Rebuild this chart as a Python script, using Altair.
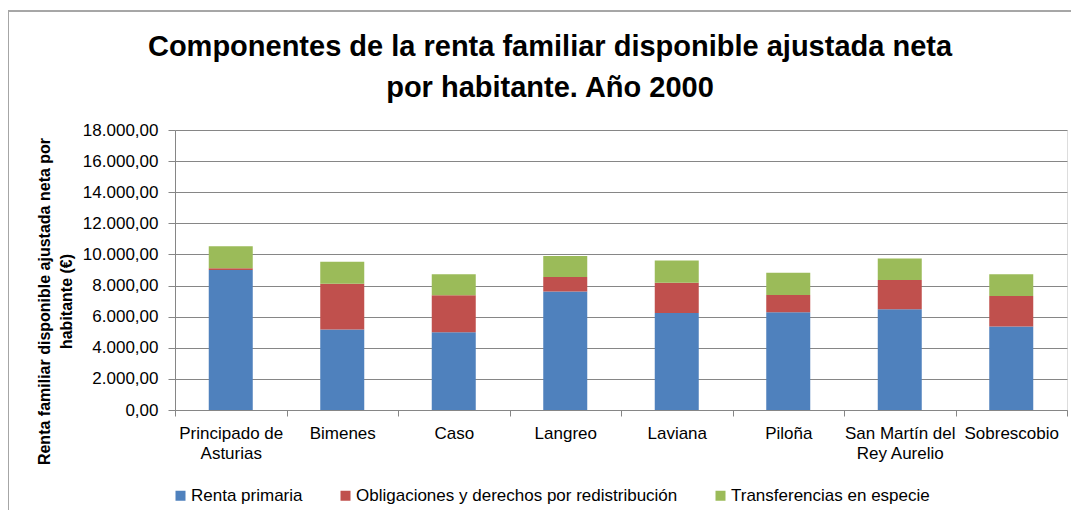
import altair as alt
import pandas as pd

categories = ["Principado de Asturias", "Bimenes", "Caso", "Langreo", "Laviana",
              "Piloña", "San Martín del Rey Aurelio", "Sobrescobio"]
series = ["Renta primaria", "Obligaciones y derechos por redistribución",
          "Transferencias en especie"]
renta_primaria = [9000, 5170, 5000, 7610, 6240, 6280, 6475, 5360]
obligaciones = [110, 2950, 2370, 940, 1940, 1110, 1880, 1970]
transferencias = [1410, 1410, 1350, 1350, 1430, 1430, 1390, 1390]
colors = ["#4F81BD", "#C0504D", "#9BBB59"]
y_ticks = [0, 2000, 4000, 6000, 8000, 10000, 12000, 14000, 16000, 18000]

rows = []
for s_idx, (name, vals) in enumerate(zip(series, [renta_primaria, obligaciones, transferencias])):
    for cat, v in zip(categories, vals):
        rows.append({"municipio": cat, "componente": name, "valor": v, "orden": s_idx})
df = pd.DataFrame(rows)

FONT = "Liberation Sans"
label_expr_x = ("datum.label == 'Principado de Asturias' ? ['Principado de', 'Asturias'] : "
                "datum.label == 'San Martín del Rey Aurelio' ? ['San Martín del', 'Rey Aurelio'] : datum.label")
label_expr_y = ("replace(replace(replace(format(datum.value, ',.2f'), ',', '#'), '.', ','), '#', '.')")

bars = alt.Chart(df).mark_bar(width=44).encode(
    x=alt.X("municipio:N", sort=categories,
            scale=alt.Scale(paddingInner=0, paddingOuter=0),
            axis=alt.Axis(title=None, labelAngle=0, labelExpr=label_expr_x,
                          labelFont=FONT, labelFontSize=17, labelColor="#000000",
                          labelLineHeight=20, labelPadding=9, tickSize=6,
                          tickBand="extent", domainColor="#868686", tickColor="#868686",
                          grid=False)),
    y=alt.Y("valor:Q", stack="zero",
            scale=alt.Scale(domain=[0, 18000], nice=False),
            axis=alt.Axis(title=["Renta familiar disponible ajustada neta por", "habitante (€)"],
                          values=y_ticks, labelExpr=label_expr_y,
                          labelFont=FONT, labelFontSize=17, labelColor="#000000",
                          labelPadding=10, tickSize=7,
                          domainColor="#868686", tickColor="#868686",
                          gridColor="#868686", gridWidth=1,
                          titleFont=FONT, titleFontSize=16, titleFontWeight="bold",
                          titleColor="#000000", titleLineHeight=22,
                          titleAngle=270, titleAlign="center", titleBaseline="middle",
                          titleX=-131, titleY=171)),
    color=alt.Color("componente:N", sort=series,
                    scale=alt.Scale(domain=series, range=colors),
                    legend=alt.Legend(title=None, orient="none", direction="horizontal",
                                      legendX=-3, legendY=357, symbolType="square",
                                      symbolSize=100, symbolStrokeWidth=0,
                                      labelFont=FONT, labelFontSize=17, labelColor="#000000",
                                      labelLimit=500, labelOffset=2, columnPadding=34,
                                      padding=0)),
    order=alt.Order("orden:Q", sort="ascending"),
)

frame_top = alt.Chart(df).mark_rule(color="#a6a6a6", strokeWidth=1, clip=False).encode(
    x=alt.value(-166.5), x2=alt.value(910), y=alt.value(-119)
)
frame_left = alt.Chart(df).mark_rule(color="#a6a6a6", strokeWidth=1, clip=False).encode(
    x=alt.value(-166.5), y=alt.value(-119), y2=alt.value(400)
)

chart = alt.layer(bars, frame_top, frame_left).properties(
    width=892, height=280,
    title=alt.TitleParams(
        text=["Componentes de la renta familiar disponible ajustada neta",
              "por habitante. Año 2000"],
        font=FONT, fontSize=29, fontWeight="bold", color="#000000",
        anchor="middle", frame="group", dx=-71, offset=-92, lineHeight=41),
    autosize=alt.AutoSizeParams(type="none"),
    padding={"left": 167, "top": 122, "right": 4, "bottom": 100},
).configure_view(stroke=None).configure(background="#ffffff")

chart.save("out.html", embed_options={"renderer": "svg", "actions": False})
